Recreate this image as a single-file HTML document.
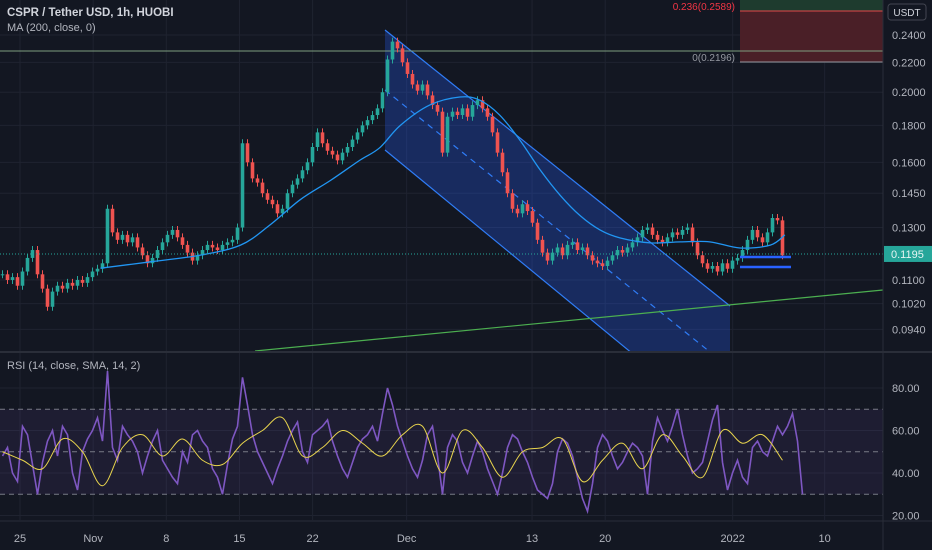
<!DOCTYPE html>
<html><head><meta charset="utf-8"><style>
html,body{margin:0;padding:0;background:#131722;}
svg{display:block;font-family:"Liberation Sans",sans-serif;}
</style></head><body>
<svg id="c" width="932" height="550" viewBox="0 0 932 550" xmlns="http://www.w3.org/2000/svg">
<rect width="932" height="550" fill="#131722"/>
<g id="grid"></g>
<g id="rsiBg"></g>
<g id="draw"></g>
<g id="candles"></g>
<g id="overlay"></g>
<g id="axes"></g>
</svg>
<script>
const closes=[.112,.110,.111,.108,.113,.118,.121,.112,.107,.101,.106,.108,.107,.109,.108,.110,.109,.111,.113,.114,.116,.138,.128,.125,.127,.124,.126,.122,.119,.116,.118,.121,.124,.127,.129,.126,.123,.120,.117,.119,.121,.123,.122,.121,.123,.124,.125,.130,.170,.160,.152,.150,.145,.142,.140,.136,.138,.145,.149,.152,.156,.160,.168,.176,.170,.166,.164,.161,.165,.168,.172,.176,.180,.183,.186,.190,.200,.222,.235,.230,.220,.212,.205,.201,.205,.198,.192,.188,.165,.185,.188,.186,.190,.185,.192,.195,.190,.185,.176,.165,.155,.145,.138,.136,.140,.137,.132,.125,.120,.117,.120,.122,.119,.123,.124,.121,.122,.119,.117,.116,.115,.117,.119,.121,.120,.122,.124,.126,.129,.130,.127,.125,.124,.126,.128,.127,.129,.130,.124,.119,.116,.114,.115,.113,.116,.114,.117,.118,.121,.125,.129,.126,.124,.128,.134,.133,.119];
const maDays=[7.7,12.4,17.2,21.1,23.9,26.8,29.7,32.5,34.4,36.4,39.2,42.1,44,45.9,47.8,49.8,51.7,53.6,55.5,57.4,60.3,63.2,66,68.9,71.8,73.2];
const maVals=[.1142,.1165,.119,.1229,.131,.142,.151,.161,.1675,.180,.192,.197,.195,.186,.172,.156,.144,.135,.129,.1258,.1238,.1242,.1242,.1218,.1229,.127];
const rsi=[48,52,40,36,62,58,44,30,45,55,60,48,62,58,40,32,50,56,60,66,55,88,52,46,62,58,55,50,40,48,55,60,46,42,38,35,50,45,58,60,55,52,42,38,30,44,56,62,85,72,58,50,45,40,35,42,48,55,60,64,50,45,58,60,62,65,55,48,42,38,45,52,56,58,62,55,68,80,72,62,55,48,42,38,46,58,62,48,30,52,58,55,45,40,48,55,50,42,36,30,40,52,58,56,50,45,38,32,30,28,35,50,56,54,48,38,28,22,35,52,58,55,48,42,45,50,54,52,48,30,55,66,60,55,62,70,58,48,40,42,45,55,65,72,45,32,40,46,38,35,52,55,50,48,55,62,58,62,68,55,30];
const rsiMaDays=[0,2,4,6,8,10,12,14,16,18,20,22,24,26,28,30,32,34,36,38,40,42,44,46,48,50,52,54,56,58,60,62,64,66,68,70,72,74,76,78];
const rsiMa=[50,46,42,56,50,34,52,58,48,56,46,44,54,60,66,48,52,60,54,48,58,62,40,60,52,38,50,52,56,36,46,54,42,58,48,38,60,54,58,46];
const priceTicks=[0.24,0.22,0.20,0.18,0.16,0.145,0.13,0.11,0.102,0.094];
const rsiTicks=[80,60,40,20];
const timeLabels=["25","Nov","8","15","22","Dec","13","20","2022","10"];
const timeDays=[0,7,14,21,28,37,49,56,68.2,77];
const NS="http://www.w3.org/2000/svg";
const PW=883;
function X(d){return 20+d*10.45;}
function Y(p){return 35+314*(Math.log(0.24)-Math.log(p));}
function R(v){return 473-(v-40)*2.125;}
function el(t,a,parent){const e=document.createElementNS(NS,t);for(const k in a)e.setAttribute(k,a[k]);(parent||document.getElementById('c')).appendChild(e);return e;}
function smooth(pts){let d='M'+pts[0][0]+','+pts[0][1];for(let i=0;i<pts.length-1;i++){const p0=pts[i-1]||pts[i],p1=pts[i],p2=pts[i+1],p3=pts[i+2]||p2;
d+=' C'+(p1[0]+(p2[0]-p0[0])/6)+','+(p1[1]+(p2[1]-p0[1])/6)+' '+(p2[0]-(p3[0]-p1[0])/6)+','+(p2[1]-(p3[1]-p1[1])/6)+' '+p2[0]+','+p2[1];}return d;}
const grid=document.getElementById('grid'),axes=document.getElementById('axes'),rb=document.getElementById('rsiBg');
priceTicks.forEach(p=>{const l=el('line',{x1:0,x2:PW,y1:Y(p),y2:Y(p),stroke:'#1f2330'},grid);});
rsiTicks.forEach(v=>{const l=el('line',{x1:0,x2:PW,y1:R(v),y2:R(v),stroke:'#1f2330'},grid);});
timeDays.forEach(d=>{const l=el('line',{x1:X(d),x2:X(d),y1:0,y2:520,stroke:'#1f2330'},grid);});
let b=el('rect',{x:0,y:R(70),width:PW,height:R(30)-R(70),fill:'#7e57c2','fill-opacity':0.1},rb);
[70,50,30].forEach(v=>{const l=el('line',{x1:0,x2:PW,y1:R(v),y2:R(v),stroke:'#787b86','stroke-dasharray':'5,4','stroke-width':1},rb);});
const dr=document.getElementById('draw');
let cp=el('clipPath',{id:'cl'},dr);el('rect',{x:0,y:0,width:PW,height:351},cp);
let g=el('g',{'clip-path':'url(#cl)'},dr);
let ch=el('polygon',{points:'385,30 730,306 730,351 630,351 385,150',fill:'#2962ff','fill-opacity':0.28},g);
el('line',{x1:385,y1:30,x2:730,y2:306,stroke:'#2f7cf6','stroke-width':1.2},g);
el('line',{x1:385,y1:150,x2:650,y2:368,stroke:'#2f7cf6','stroke-width':1.2},g);
el('line',{x1:385,y1:90,x2:710,y2:352,stroke:'#2f7cf6','stroke-width':1.2,'stroke-dasharray':'6,5'},g);
let gl=el('line',{x1:255,y1:351,x2:PW,y2:290,stroke:'#4caf50','stroke-width':1.2},g);
let fg=el('rect',{x:740,y:0,width:143,height:11,fill:'#1e3b2e'},dr);
let fr=el('rect',{x:740,y:11,width:143,height:51,fill:'#4a1f27'},dr);
el('line',{x1:740,x2:PW,y1:11,y2:11,stroke:'#e04a4a'},dr);
el('line',{x1:740,x2:PW,y1:62,y2:62,stroke:'#9598a1'},dr);
let hl=el('line',{x1:0,x2:PW,y1:51,y2:51,stroke:'#7d9e7f','stroke-width':1},dr);
let t1=el('text',{x:735,y:10,fill:'#f23645','font-size':10,'text-anchor':'end'},dr);t1.textContent='0.236(0.2589)';
let t2=el('text',{x:735,y:61,fill:'#9598a1','font-size':10,'text-anchor':'end'},dr);t2.textContent='0(0.2196)';
const cg=document.getElementById('candles');const N=closes.length,step=785/N;
closes.forEach((c,i)=>{const o=i?closes[i-1]:c;const up=c>=o;const col=up?'#26a69a':'#ef5350';const x=i*step+step/2;
const y1=Y(Math.max(o,c)),y2=Y(Math.min(o,c));
const w=el('line',{x1:x,x2:x,y1:y1-4,y2:y2+4,stroke:col,'stroke-width':1},cg);
const r=el('rect',{x:x-1.8,y:y1,width:3.6,height:Math.max(1,y2-y1),fill:col},cg);});
const ov=document.getElementById('overlay');
let ma=el('path',{d:smooth(maDays.map((d,i)=>[X(d),Y(maVals[i])])),fill:'none',stroke:'#2196f3','stroke-width':1.3},ov);
el('line',{x1:740,x2:791,y1:257,y2:257,stroke:'#2962ff','stroke-width':2.5},ov);
el('line',{x1:740,x2:791,y1:267,y2:267,stroke:'#2962ff','stroke-width':2.5},ov);
let cl=el('line',{x1:0,x2:PW,y1:Y(0.1195),y2:Y(0.1195),stroke:'#26a69a','stroke-dasharray':'1,2'},ov);
let rl=el('polyline',{points:rsi.map((v,i)=>(i*step+step/2)+','+R(v)).join(' '),fill:'none',stroke:'#7e57c2','stroke-width':1.6},ov);
let rm=el('path',{d:smooth(rsiMaDays.map((d,i)=>[d*2*step+step/2,R(rsiMa[i])])),fill:'none',stroke:'#e8d44d','stroke-width':1},ov);
el('rect',{x:PW,y:0,width:49,height:550,fill:'#131722'},axes);
el('line',{x1:PW,x2:PW,y1:0,y2:550,stroke:'#2a2e39'},axes);
el('line',{x1:0,x2:932,y1:352,y2:352,stroke:'#2a2e39','stroke-width':2},axes);
el('line',{x1:0,x2:932,y1:521,y2:521,stroke:'#2a2e39'},axes);
priceTicks.forEach(p=>{const t=el('text',{x:892,y:Y(p)+4,fill:'#b2b5be','font-size':11},axes);t.textContent=p.toFixed(4);});
rsiTicks.forEach(v=>{const t=el('text',{x:892,y:R(v)+4,fill:'#b2b5be','font-size':11},axes);t.textContent=v.toFixed(2);});
timeDays.forEach((d,i)=>{const t=el('text',{x:X(d),y:542,fill:'#b2b5be','font-size':11,'text-anchor':'middle'},axes);t.textContent=timeLabels[i];});
let pb=el('rect',{x:884,y:Y(0.1195)-8,width:48,height:16,fill:'#26a69a'},axes);
let pt=el('text',{x:891,y:Y(0.1195)+4,fill:'#e6f5f3','font-size':11},axes);pt.textContent='0.1195';
let ub=el('rect',{x:888,y:4,width:38,height:16,rx:3,fill:'#131722',stroke:'#434651'},axes);
let ut=el('text',{x:907,y:16,fill:'#d1d4dc','font-size':10,'text-anchor':'middle'},axes);ut.textContent='USDT';
let tt=el('text',{x:7,y:16,fill:'#d1d4dc','font-size':11.5,'font-weight':'bold'},axes);tt.textContent='CSPR / Tether USD, 1h, HUOBI';
let mt=el('text',{x:7,y:31,fill:'#b2b5be','font-size':11},axes);mt.textContent='MA (200, close, 0)';
let rt=el('text',{x:7,y:369,fill:'#b2b5be','font-size':11},axes);rt.textContent='RSI (14, close, SMA, 14, 2)';
</script>
</body></html>
